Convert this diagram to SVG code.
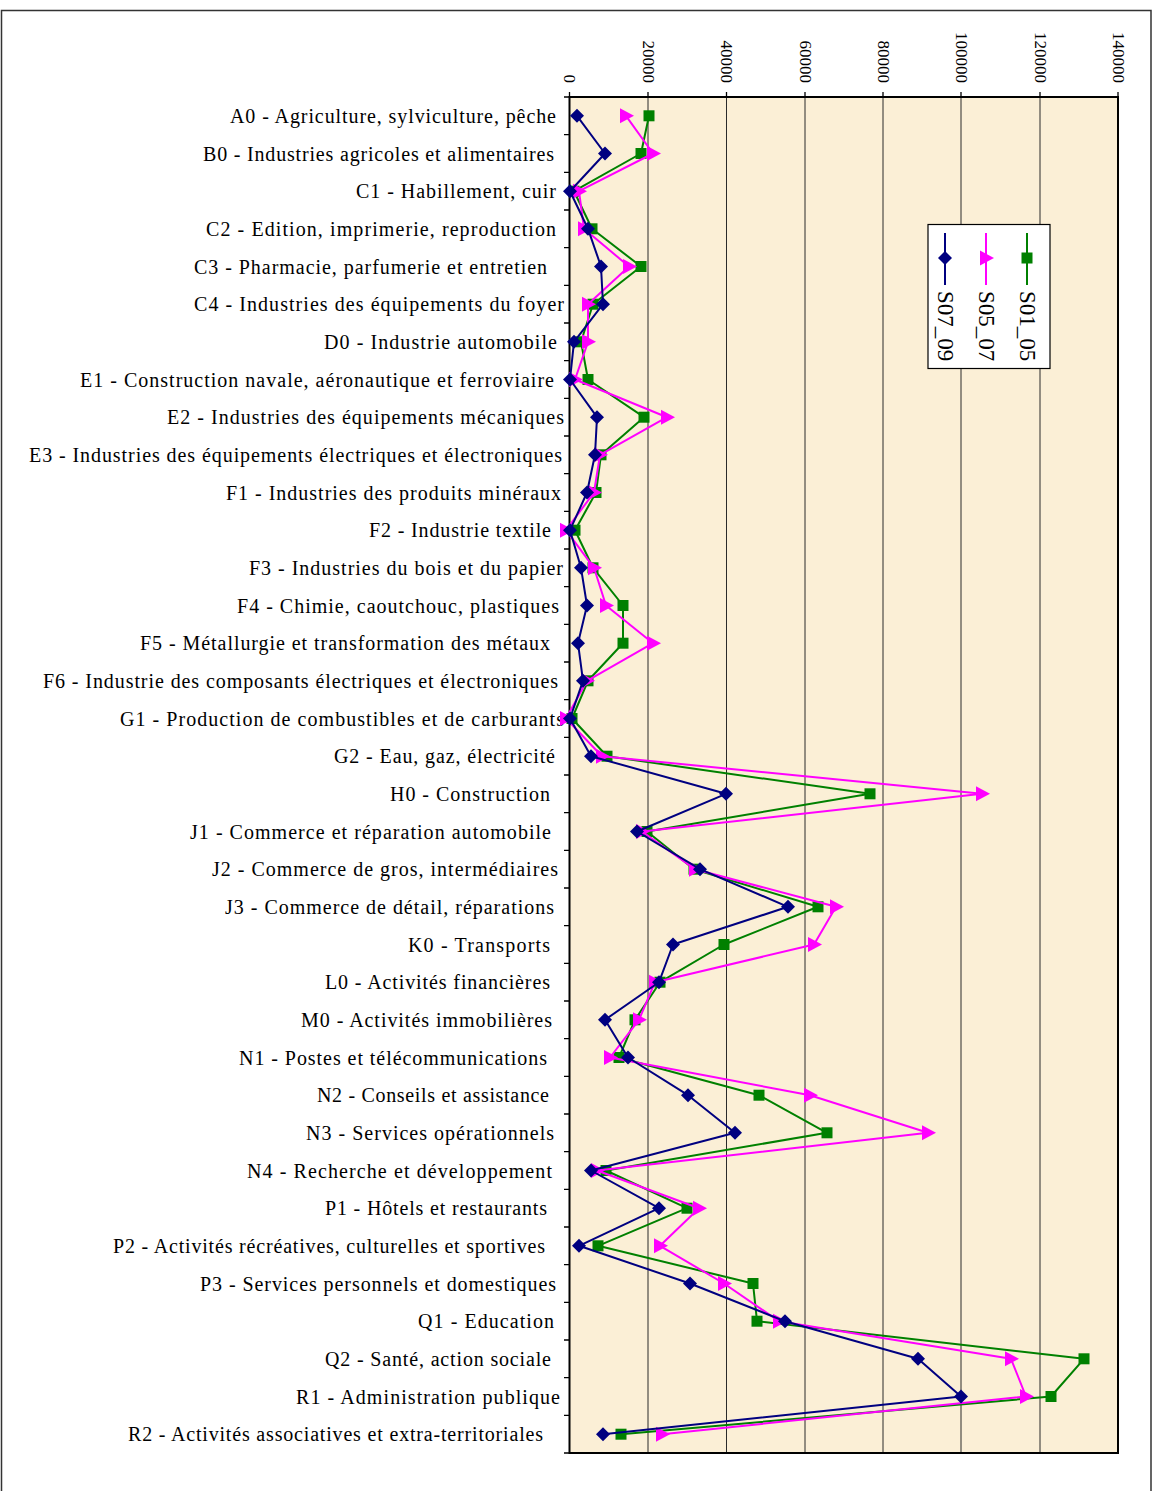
<svg xmlns="http://www.w3.org/2000/svg" xmlns:xlink="http://www.w3.org/1999/xlink" width="1157" height="1491" viewBox="0 0 1157 1491" font-family="Liberation Serif, Times New Roman, DejaVu Serif, serif">
<style>
text{font-family:'Liberation Serif','Times New Roman','DejaVu Serif',serif}
.lbl{font-size:20px;fill:#000}
.tick{font-size:17px;fill:#000}
.leg{font-size:23px;fill:#000}
.grid{stroke:#2a2a2a;stroke-width:1}
.tk{stroke:#000;stroke-width:1.3}
.s1{fill:none;stroke:#008000;stroke-width:2;stroke-linejoin:round}
.s2{fill:none;stroke:#FF00FF;stroke-width:2;stroke-linejoin:round}
.s3{fill:none;stroke:#000080;stroke-width:2;stroke-linejoin:round}
</style>
<defs>
<path id="dia" d="M0,-7 L7,0 L0,7 L-7,0 Z" fill="#000080"/>
<path id="tri" d="M-6,-7.5 L8,0 L-6,7.5 Z" fill="#FF00FF"/>
<rect id="sq" x="-5.5" y="-5.5" width="11" height="11" fill="#008000"/>
</defs>
<rect x="0" y="0" width="1157" height="1491" fill="#fff"/>
<path d="M1.5,1500 V10.5 H1151 V1500" fill="none" stroke="#333" stroke-width="1.5"/>
<g id="plot-area">
<rect x="569.5" y="97" width="548.5" height="1356" fill="#FBEFD6"/>
<g id="gridlines">
<line class="grid" x1="648" y1="97" x2="648" y2="1453"/>
<line class="grid" x1="726.5" y1="97" x2="726.5" y2="1453"/>
<line class="grid" x1="805" y1="97" x2="805" y2="1453"/>
<line class="grid" x1="883" y1="97" x2="883" y2="1453"/>
<line class="grid" x1="961" y1="97" x2="961" y2="1453"/>
<line class="grid" x1="1040" y1="97" x2="1040" y2="1453"/>
</g>
<rect x="569.5" y="97" width="548.5" height="1356" fill="none" stroke="#000" stroke-width="2"/>
</g>
<g id="value-axis" font-family="Liberation Serif, serif">
<path class="tk" d="M569.5,92V97 M648,92V97 M726.5,92V97 M805,92V97 M883,92V97 M961,92V97 M1040,92V97 M1118,92V97"/>
<text class="tick" text-anchor="end" transform="translate(564,83) rotate(90)">0</text>
<text class="tick" text-anchor="end" transform="translate(642.5,83) rotate(90)">20000</text>
<text class="tick" text-anchor="end" transform="translate(721,83) rotate(90)">40000</text>
<text class="tick" text-anchor="end" transform="translate(799.5,83) rotate(90)">60000</text>
<text class="tick" text-anchor="end" transform="translate(877.5,83) rotate(90)">80000</text>
<text class="tick" text-anchor="end" transform="translate(955.5,83) rotate(90)">100000</text>
<text class="tick" text-anchor="end" transform="translate(1034.5,83) rotate(90)">120000</text>
<text class="tick" text-anchor="end" transform="translate(1112.5,83) rotate(90)">140000</text>
</g>
<g id="category-axis" font-family="Liberation Serif, serif">
<path class="tk" d="M564,97H569.5 M564,134.7H569.5 M564,172.3H569.5 M564,210H569.5 M564,247.7H569.5 M564,285.3H569.5 M564,323H569.5 M564,360.7H569.5 M564,398.3H569.5 M564,436H569.5 M564,473.7H569.5 M564,511.3H569.5 M564,549H569.5 M564,586.7H569.5 M564,624.3H569.5 M564,662H569.5 M564,699.7H569.5 M564,737.3H569.5 M564,775H569.5 M564,812.7H569.5 M564,850.3H569.5 M564,888H569.5 M564,925.7H569.5 M564,963.3H569.5 M564,1001H569.5 M564,1038.7H569.5 M564,1076.3H569.5 M564,1114H569.5 M564,1151.7H569.5 M564,1189.3H569.5 M564,1227H569.5 M564,1264.7H569.5 M564,1302.3H569.5 M564,1340H569.5 M564,1377.7H569.5 M564,1415.3H569.5 M564,1453H569.5"/>
<text class="lbl" x="230" y="122.8" textLength="326" lengthAdjust="spacing">A0 - Agriculture, sylviculture, pêche</text>
<text class="lbl" x="203" y="160.5" textLength="351" lengthAdjust="spacing">B0 - Industries agricoles et alimentaires</text>
<text class="lbl" x="356" y="198.2" textLength="200" lengthAdjust="spacing">C1 - Habillement, cuir</text>
<text class="lbl" x="206" y="235.8" textLength="350" lengthAdjust="spacing">C2 - Edition, imprimerie, reproduction</text>
<text class="lbl" x="194" y="273.5" textLength="353" lengthAdjust="spacing">C3 - Pharmacie, parfumerie et entretien</text>
<text class="lbl" x="194" y="311.2" textLength="370" lengthAdjust="spacing">C4 - Industries des équipements du foyer</text>
<text class="lbl" x="324" y="348.8" textLength="233" lengthAdjust="spacing">D0 - Industrie automobile</text>
<text class="lbl" x="80" y="386.5" textLength="474" lengthAdjust="spacing">E1 - Construction navale, aéronautique et ferroviaire</text>
<text class="lbl" x="167" y="424.2" textLength="397" lengthAdjust="spacing">E2 - Industries des équipements mécaniques</text>
<text class="lbl" x="29" y="461.8" textLength="533" lengthAdjust="spacing">E3 - Industries des équipements électriques et électroniques</text>
<text class="lbl" x="226" y="499.5" textLength="335" lengthAdjust="spacing">F1 - Industries des produits minéraux</text>
<text class="lbl" x="369" y="537.2" textLength="182" lengthAdjust="spacing">F2 - Industrie textile</text>
<text class="lbl" x="249" y="574.8" textLength="314" lengthAdjust="spacing">F3 - Industries du bois et du papier</text>
<text class="lbl" x="237" y="612.5" textLength="322" lengthAdjust="spacing">F4 - Chimie, caoutchouc, plastiques</text>
<text class="lbl" x="140" y="650.2" textLength="410" lengthAdjust="spacing">F5 - Métallurgie et transformation des métaux</text>
<text class="lbl" x="43" y="687.8" textLength="515" lengthAdjust="spacing">F6 - Industrie des composants électriques et électroniques</text>
<text class="lbl" x="120" y="725.5" textLength="444" lengthAdjust="spacing">G1 - Production de combustibles et de carburants</text>
<text class="lbl" x="334" y="763.2" textLength="221" lengthAdjust="spacing">G2 - Eau, gaz, électricité</text>
<text class="lbl" x="390" y="800.8" textLength="160" lengthAdjust="spacing">H0 - Construction</text>
<text class="lbl" x="190" y="838.5" textLength="361" lengthAdjust="spacing">J1 - Commerce et réparation automobile</text>
<text class="lbl" x="212" y="876.2" textLength="346" lengthAdjust="spacing">J2 - Commerce de gros, intermédiaires</text>
<text class="lbl" x="225" y="913.8" textLength="329" lengthAdjust="spacing">J3 - Commerce de détail, réparations</text>
<text class="lbl" x="408" y="951.5" textLength="142" lengthAdjust="spacing">K0 - Transports</text>
<text class="lbl" x="325" y="989.2" textLength="225" lengthAdjust="spacing">L0 - Activités financières</text>
<text class="lbl" x="301" y="1026.8" textLength="251" lengthAdjust="spacing">M0 - Activités immobilières</text>
<text class="lbl" x="239" y="1064.5" textLength="308" lengthAdjust="spacing">N1 - Postes et télécommunications</text>
<text class="lbl" x="317" y="1102.2" textLength="232" lengthAdjust="spacing">N2 - Conseils et assistance</text>
<text class="lbl" x="306" y="1139.8" textLength="248" lengthAdjust="spacing">N3 - Services opérationnels</text>
<text class="lbl" x="247" y="1177.5" textLength="305" lengthAdjust="spacing">N4 - Recherche et développement</text>
<text class="lbl" x="325" y="1215.2" textLength="222" lengthAdjust="spacing">P1 - Hôtels et restaurants</text>
<text class="lbl" x="113" y="1252.8" textLength="432" lengthAdjust="spacing">P2 - Activités récréatives, culturelles et sportives</text>
<text class="lbl" x="200" y="1290.5" textLength="356" lengthAdjust="spacing">P3 - Services personnels et domestiques</text>
<text class="lbl" x="418" y="1328.2" textLength="136" lengthAdjust="spacing">Q1 - Education</text>
<text class="lbl" x="325" y="1365.8" textLength="226" lengthAdjust="spacing">Q2 - Santé, action sociale</text>
<text class="lbl" x="296" y="1403.5" textLength="264" lengthAdjust="spacing">R1 - Administration publique</text>
<text class="lbl" x="128" y="1441.2" textLength="415" lengthAdjust="spacing">R2 - Activités associatives et extra-territoriales</text>
</g>
<g id="series-S01_05">
<polyline class="s1" points="649,115.8 641,153.5 574,191.2 592,228.8 641,266.5 593,304.2 581,341.8 588,379.5 644,417.2 601,454.8 596,492.5 575,530.2 593,567.8 623,605.5 623,643.2 588,680.8 572,718.5 607,756.2 870,793.8 647,831.5 694,869.2 818,906.8 724,944.5 660,982.2 635,1019.8 619,1057.5 759,1095.2 827,1132.8 606,1170.5 687,1208.2 598,1245.8 753,1283.5 757,1321.2 1084,1358.8 1051,1396.5 621,1434.2"/>
<use href="#sq" x="649" y="115.8"/><use href="#sq" x="641" y="153.5"/><use href="#sq" x="574" y="191.2"/><use href="#sq" x="592" y="228.8"/><use href="#sq" x="641" y="266.5"/><use href="#sq" x="593" y="304.2"/><use href="#sq" x="581" y="341.8"/><use href="#sq" x="588" y="379.5"/><use href="#sq" x="644" y="417.2"/><use href="#sq" x="601" y="454.8"/><use href="#sq" x="596" y="492.5"/><use href="#sq" x="575" y="530.2"/><use href="#sq" x="593" y="567.8"/><use href="#sq" x="623" y="605.5"/><use href="#sq" x="623" y="643.2"/><use href="#sq" x="588" y="680.8"/><use href="#sq" x="572" y="718.5"/><use href="#sq" x="607" y="756.2"/><use href="#sq" x="870" y="793.8"/><use href="#sq" x="647" y="831.5"/><use href="#sq" x="694" y="869.2"/><use href="#sq" x="818" y="906.8"/><use href="#sq" x="724" y="944.5"/><use href="#sq" x="660" y="982.2"/><use href="#sq" x="635" y="1019.8"/><use href="#sq" x="619" y="1057.5"/><use href="#sq" x="759" y="1095.2"/><use href="#sq" x="827" y="1132.8"/><use href="#sq" x="606" y="1170.5"/><use href="#sq" x="687" y="1208.2"/><use href="#sq" x="598" y="1245.8"/><use href="#sq" x="753" y="1283.5"/><use href="#sq" x="757" y="1321.2"/><use href="#sq" x="1084" y="1358.8"/><use href="#sq" x="1051" y="1396.5"/><use href="#sq" x="621" y="1434.2"/>
</g>
<g id="series-S05_07">
<polyline class="s2" points="626,115.8 653,153.5 579,191.2 584,228.8 629,266.5 588,304.2 588,341.8 575,379.5 667,417.2 600,454.8 594,492.5 566,530.2 594,567.8 606,605.5 653,643.2 587,680.8 566,718.5 602,756.2 982,793.8 642,831.5 695,869.2 836,906.8 814,944.5 655,982.2 639,1019.8 610,1057.5 810,1095.2 928,1132.8 597,1170.5 699,1208.2 660,1245.8 724,1283.5 779,1321.2 1011,1358.8 1026,1396.5 662,1434.2"/>
<use href="#tri" x="626" y="115.8"/><use href="#tri" x="653" y="153.5"/><use href="#tri" x="579" y="191.2"/><use href="#tri" x="584" y="228.8"/><use href="#tri" x="629" y="266.5"/><use href="#tri" x="588" y="304.2"/><use href="#tri" x="588" y="341.8"/><use href="#tri" x="575" y="379.5"/><use href="#tri" x="667" y="417.2"/><use href="#tri" x="600" y="454.8"/><use href="#tri" x="594" y="492.5"/><use href="#tri" x="566" y="530.2"/><use href="#tri" x="594" y="567.8"/><use href="#tri" x="606" y="605.5"/><use href="#tri" x="653" y="643.2"/><use href="#tri" x="587" y="680.8"/><use href="#tri" x="566" y="718.5"/><use href="#tri" x="602" y="756.2"/><use href="#tri" x="982" y="793.8"/><use href="#tri" x="642" y="831.5"/><use href="#tri" x="695" y="869.2"/><use href="#tri" x="836" y="906.8"/><use href="#tri" x="814" y="944.5"/><use href="#tri" x="655" y="982.2"/><use href="#tri" x="639" y="1019.8"/><use href="#tri" x="610" y="1057.5"/><use href="#tri" x="810" y="1095.2"/><use href="#tri" x="928" y="1132.8"/><use href="#tri" x="597" y="1170.5"/><use href="#tri" x="699" y="1208.2"/><use href="#tri" x="660" y="1245.8"/><use href="#tri" x="724" y="1283.5"/><use href="#tri" x="779" y="1321.2"/><use href="#tri" x="1011" y="1358.8"/><use href="#tri" x="1026" y="1396.5"/><use href="#tri" x="662" y="1434.2"/>
</g>
<g id="series-S07_09">
<polyline class="s3" points="577,115.8 605,153.5 570,191.2 588,228.8 601,266.5 603,304.2 574,341.8 570,379.5 597,417.2 595,454.8 587,492.5 570,530.2 581,567.8 587,605.5 578,643.2 583,680.8 570,718.5 591,756.2 726,793.8 637,831.5 700,869.2 788,906.8 673,944.5 659,982.2 605,1019.8 628,1057.5 688,1095.2 735,1132.8 591,1170.5 659,1208.2 579,1245.8 690,1283.5 785,1321.2 918,1358.8 961,1396.5 603,1434.2"/>
<use href="#dia" x="577" y="115.8"/><use href="#dia" x="605" y="153.5"/><use href="#dia" x="570" y="191.2"/><use href="#dia" x="588" y="228.8"/><use href="#dia" x="601" y="266.5"/><use href="#dia" x="603" y="304.2"/><use href="#dia" x="574" y="341.8"/><use href="#dia" x="570" y="379.5"/><use href="#dia" x="597" y="417.2"/><use href="#dia" x="595" y="454.8"/><use href="#dia" x="587" y="492.5"/><use href="#dia" x="570" y="530.2"/><use href="#dia" x="581" y="567.8"/><use href="#dia" x="587" y="605.5"/><use href="#dia" x="578" y="643.2"/><use href="#dia" x="583" y="680.8"/><use href="#dia" x="570" y="718.5"/><use href="#dia" x="591" y="756.2"/><use href="#dia" x="726" y="793.8"/><use href="#dia" x="637" y="831.5"/><use href="#dia" x="700" y="869.2"/><use href="#dia" x="788" y="906.8"/><use href="#dia" x="673" y="944.5"/><use href="#dia" x="659" y="982.2"/><use href="#dia" x="605" y="1019.8"/><use href="#dia" x="628" y="1057.5"/><use href="#dia" x="688" y="1095.2"/><use href="#dia" x="735" y="1132.8"/><use href="#dia" x="591" y="1170.5"/><use href="#dia" x="659" y="1208.2"/><use href="#dia" x="579" y="1245.8"/><use href="#dia" x="690" y="1283.5"/><use href="#dia" x="785" y="1321.2"/><use href="#dia" x="918" y="1358.8"/><use href="#dia" x="961" y="1396.5"/><use href="#dia" x="603" y="1434.2"/>
</g>
<g id="legend" font-family="Liberation Serif, serif">
<rect x="928" y="224.5" width="122" height="144" fill="#fff" stroke="#000" stroke-width="1.2"/>
<line x1="945" y1="233" x2="945" y2="285" stroke="#000080" stroke-width="2"/>
<use href="#dia" x="945" y="258"/>
<line x1="986" y1="233" x2="986" y2="285" stroke="#FF00FF" stroke-width="2"/>
<use href="#tri" x="986" y="258"/>
<line x1="1027" y1="233" x2="1027" y2="285" stroke="#008000" stroke-width="2"/>
<use href="#sq" x="1027" y="258"/>
<text class="leg" transform="translate(937.5,291) rotate(90)">S07_09</text>
<text class="leg" transform="translate(978.5,291) rotate(90)">S05_07</text>
<text class="leg" transform="translate(1019.5,291) rotate(90)">S01_05</text>
</g>
</svg>
